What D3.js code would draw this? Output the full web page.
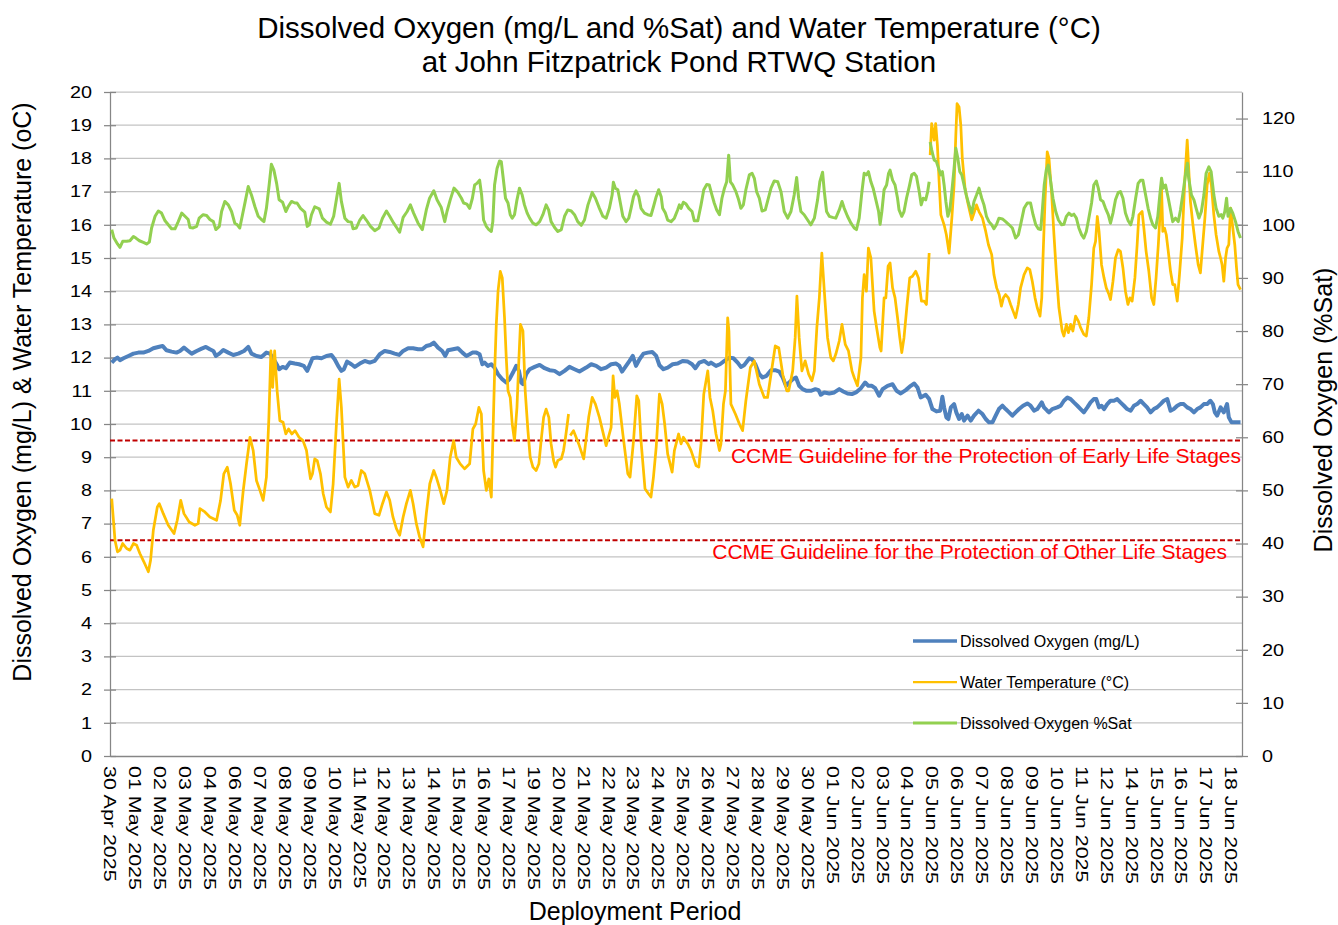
<html>
<head>
<meta charset="utf-8">
<title>RTWQ chart</title>
<script src="https://cdn.jsdelivr.net/npm/d3@7"></script>
<style>
body { margin: 0; background: #fff; }
text { font-family: "Liberation Sans", Arial, sans-serif; }
</style>
</head>

<body>
<svg id="chart" width="1338" height="925"></svg>
</body>

<script>
// x values are positions along the category axis (1 = one label step)
var x_labels = ["30 Apr 2025", "01 May 2025", "02 May 2025", "03 May 2025", "04 May 2025", "06 May 2025",
  "07 May 2025", "08 May 2025", "09 May 2025", "10 May 2025", "11 May 2025", "12 May 2025", "13 May 2025",
  "14 May 2025", "15 May 2025", "16 May 2025", "17 May 2025", "19 May 2025", "20 May 2025", "21 May 2025",
  "22 May 2025", "23 May 2025", "24 May 2025", "25 May 2025", "26 May 2025", "27 May 2025", "28 May 2025",
  "29 May 2025", "30 May 2025", "01 Jun 2025", "02 Jun 2025", "03 Jun 2025", "04 Jun 2025", "05 Jun 2025",
  "06 Jun 2025", "07 Jun 2025", "08 Jun 2025", "09 Jun 2025", "10 Jun 2025", "11 Jun 2025", "12 Jun 2025",
  "14 Jun 2025", "15 Jun 2025", "16 Jun 2025", "17 Jun 2025", "18 Jun 2025"];

var left_ticks = [0,1,2,3,4,5,6,7,8,9,10,11,12,13,14,15,16,17,18,19,20];
var right_ticks = [0,10,20,30,40,50,60,70,80,90,100,110,120];

var guidelines = [9.5, 6.5];
var guideline_labels = ["CCME Guideline for the Protection of Early Life Stages",
                        "CCME Guideline for the Protection of Other Life Stages"];

var series_names = ["Dissolved Oxygen (mg/L)", "Water Temperature (\u00B0C)", "Dissolved Oxygen %Sat"];

var do_mgl = [[0.07,11.85],[0.20,11.95],[0.30,12.0],[0.40,11.92],[0.54,11.98],[0.74,12.05],[0.94,12.12],[1.14,12.15],
[1.34,12.15],[1.54,12.2],[1.74,12.28],[1.94,12.32],[2.11,12.35],[2.27,12.22],[2.47,12.18],[2.67,12.15],[2.81,12.2],
[2.97,12.3],[3.14,12.2],[3.28,12.12],[3.48,12.2],[3.68,12.27],[3.85,12.32],[4.01,12.25],[4.15,12.2],[4.25,12.05],
[4.39,12.12],[4.55,12.23],[4.75,12.15],[4.95,12.08],[5.15,12.12],[5.38,12.2],[5.55,12.32],[5.68,12.12],[5.88,12.05],
[6.08,12.02],[6.28,12.15],[6.42,12.12],[6.55,11.98],[6.69,11.8],[6.79,11.65],[6.93,11.72],[7.06,11.68],[7.22,11.85],
[7.42,11.82],[7.59,11.8],[7.78,11.75],[7.92,11.6],[8.00,11.75],[8.13,11.98],[8.29,12.0],[8.49,11.98],[8.69,12.05],
[8.89,12.08],[9.02,11.95],[9.16,11.75],[9.29,11.6],[9.39,11.65],[9.52,11.88],[9.69,11.8],[9.83,11.72],[10.03,11.82],
[10.23,11.9],[10.43,11.85],[10.63,11.9],[10.83,12.1],[11.03,12.2],[11.23,12.17],[11.43,12.12],[11.61,12.08],[11.77,12.2],
[11.97,12.28],[12.17,12.28],[12.37,12.25],[12.54,12.25],[12.70,12.35],[12.86,12.38],[13.00,12.45],[13.17,12.3],
[13.34,12.2],[13.46,12.05],[13.57,12.22],[13.77,12.25],[13.97,12.28],[14.15,12.15],[14.31,12.05],[14.44,12.1],
[14.55,12.15],[14.71,12.15],[14.84,12.1],[14.95,11.8],[15.04,11.85],[15.17,11.75],[15.31,11.8],[15.44,11.7],[15.58,11.5],
[15.75,11.35],[15.91,11.25],[16.04,11.35],[16.18,11.55],[16.31,11.75],[16.42,11.6],[16.51,11.25],[16.58,11.2],
[16.71,11.5],[16.85,11.65],[17.05,11.72],[17.25,11.78],[17.45,11.68],[17.65,11.62],[17.85,11.6],[18.05,11.5],
[18.25,11.6],[18.45,11.72],[18.65,11.65],[18.85,11.58],[19.12,11.7],[19.32,11.8],[19.52,11.75],[19.72,11.65],
[19.92,11.7],[20.12,11.8],[20.32,11.82],[20.45,11.75],[20.56,11.58],[20.72,11.75],[20.86,11.9],[20.99,12.05],
[21.12,11.75],[21.26,11.95],[21.42,12.12],[21.59,12.15],[21.77,12.17],[21.93,12.05],[22.06,11.77],[22.22,11.65],
[22.39,11.7],[22.59,11.8],[22.79,11.82],[22.99,11.9],[23.20,11.88],[23.37,11.8],[23.50,11.68],[23.66,11.85],[23.86,11.9],
[24.04,11.8],[24.13,11.85],[24.33,11.75],[24.49,11.8],[24.67,11.9],[24.87,12.0],[25.03,11.98],[25.20,11.85],[25.33,11.72],
[25.47,11.78],[25.67,11.98],[25.78,11.95],[25.91,11.8],[26.07,11.5],[26.20,11.4],[26.36,11.45],[26.54,11.62],[26.71,11.62],
[26.87,11.58],[27.01,11.4],[27.14,11.15],[27.27,11.25],[27.41,11.35],[27.54,11.4],[27.67,11.15],[27.81,11.05],[27.97,11.0],
[28.14,11.0],[28.32,11.05],[28.45,11.02],[28.54,10.88],[28.68,10.95],[28.88,10.92],[29.08,10.95],[29.28,11.05],[29.44,10.98],
[29.61,10.92],[29.79,10.9],[29.95,10.95],[30.15,11.08],[30.32,11.25],[30.45,11.15],[30.59,11.15],[30.72,11.08],[30.88,10.85],
[31.02,11.05],[31.22,11.15],[31.42,11.2],[31.58,11.0],[31.75,10.92],[31.95,11.02],[32.15,11.15],[32.29,11.22],[32.42,11.1],
[32.55,10.8],[32.75,10.88],[32.89,10.75],[33.02,10.45],[33.18,10.38],[33.33,10.4],[33.42,10.82],[33.49,10.5],[33.58,10.2],
[33.66,10.15],[33.76,10.5],[33.89,10.6],[33.98,10.35],[34.09,10.15],[34.20,10.3],[34.29,10.1],[34.43,10.25],[34.56,10.1],
[34.69,10.25],[34.87,10.4],[35.03,10.3],[35.16,10.15],[35.29,10.05],[35.43,10.05],[35.56,10.25],[35.69,10.45],[35.83,10.55],
[35.96,10.45],[36.10,10.35],[36.23,10.25],[36.36,10.35],[36.50,10.45],[36.66,10.55],[36.83,10.62],[36.96,10.55],[37.10,10.4],
[37.23,10.45],[37.41,10.65],[37.50,10.5],[37.63,10.4],[37.70,10.35],[37.83,10.45],[38.03,10.5],[38.17,10.55],[38.30,10.7],
[38.44,10.8],[38.57,10.75],[38.70,10.65],[38.84,10.55],[38.97,10.45],[39.10,10.35],[39.24,10.5],[39.37,10.65],[39.50,10.75],
[39.60,10.75],[39.71,10.5],[39.81,10.55],[39.91,10.45],[40.04,10.6],[40.17,10.7],[40.31,10.7],[40.44,10.75],[40.57,10.65],
[40.71,10.55],[40.84,10.45],[40.98,10.4],[41.11,10.55],[41.24,10.6],[41.38,10.7],[41.51,10.6],[41.64,10.5],[41.78,10.35],
[41.91,10.45],[42.04,10.5],[42.18,10.6],[42.31,10.7],[42.45,10.75],[42.58,10.4],[42.71,10.45],[42.85,10.55],[42.98,10.6],
[43.11,10.6],[43.25,10.5],[43.38,10.45],[43.52,10.35],[43.65,10.45],[43.78,10.5],[43.92,10.6],[44.05,10.6],[44.18,10.7],
[44.28,10.6],[44.36,10.35],[44.45,10.25],[44.59,10.5],[44.72,10.35],[44.85,10.6],[44.92,10.2],[45.03,10.05],[45.19,10.05],
[45.39,10.05]];

var water_temp = [[0.07,7.75],[0.20,6.5],[0.30,6.15],[0.40,6.2],[0.51,6.4],[0.67,6.25],[0.80,6.2],[0.94,6.4],[1.07,6.35],
[1.20,6.1],[1.36,5.85],[1.54,5.55],[1.63,5.9],[1.74,6.8],[1.90,7.5],[1.98,7.6],[2.14,7.3],[2.34,6.95],[2.57,6.7],[2.70,7.1],
[2.84,7.7],[2.97,7.3],[3.18,7.05],[3.41,6.95],[3.54,7.0],[3.61,7.45],[3.81,7.35],[4.01,7.2],[4.28,7.1],[4.44,7.7],[4.57,8.5],
[4.71,8.7],[4.84,8.2],[4.99,7.4],[5.11,7.25],[5.21,6.95],[5.35,8.0],[5.48,8.8],[5.62,9.6],[5.75,9.2],[5.88,8.3],[6.02,8.0],
[6.15,7.7],[6.28,8.4],[6.38,10.2],[6.46,12.2],[6.53,11.1],[6.61,12.2],[6.71,11.0],[6.82,10.1],[6.95,10.05],[7.06,9.7],
[7.17,9.85],[7.30,9.7],[7.43,9.8],[7.59,9.6],[7.75,9.5],[7.89,9.2],[7.96,8.8],[8.05,8.35],[8.13,8.5],[8.22,8.95],[8.32,8.9],
[8.45,8.5],[8.56,7.9],[8.69,7.5],[8.85,7.35],[8.96,8.2],[9.09,10.0],[9.20,11.35],[9.29,10.5],[9.43,8.4],[9.56,8.1],[9.69,8.3],
[9.83,8.1],[9.96,8.15],[10.09,8.6],[10.23,8.5],[10.43,8.0],[10.63,7.3],[10.80,7.25],[10.94,7.6],[11.10,7.95],[11.23,7.7],
[11.36,7.2],[11.50,6.85],[11.63,6.65],[11.77,7.2],[11.90,7.6],[12.06,8.0],[12.17,7.6],[12.30,7.0],[12.43,6.6],[12.57,6.3],
[12.70,7.3],[12.84,8.2],[13.00,8.6],[13.10,8.4],[13.26,8.0],[13.40,7.6],[13.53,8.0],[13.66,9.0],[13.80,9.5],[13.90,9.0],
[14.06,8.8],[14.24,8.65],[14.44,8.8],[14.57,9.85],[14.68,10.0],[14.81,10.5],[14.91,10.3],[15.00,8.6],[15.11,8.0],[15.21,8.35],
[15.31,7.8],[15.37,9.5],[15.44,11.5],[15.51,13.0],[15.58,14.0],[15.67,14.6],[15.75,14.4],[15.84,13.2],[15.91,12.0],[15.98,11.0],
[16.07,10.8],[16.15,10.0],[16.24,9.5],[16.34,10.5],[16.42,12.0],[16.48,13.0],[16.58,12.8],[16.67,11.0],[16.78,9.8],[16.87,9.0],
[16.98,8.7],[17.11,8.6],[17.22,8.8],[17.31,9.5],[17.41,10.2],[17.51,10.45],[17.62,10.2],[17.71,9.4],[17.81,8.9],[17.89,8.7],
[17.98,8.9],[18.12,8.95],[18.21,9.2],[18.29,9.6],[18.36,10.0],[18.41,10.3],[18.44,null],[18.48,9.65],[18.61,9.8],[18.82,9.4],
[19.02,8.95],[19.22,10.2],[19.36,10.8],[19.49,10.6],[19.65,10.2],[19.92,9.35],[20.12,9.9],[20.20,11.45],[20.27,10.8],
[20.36,11.0],[20.45,10.6],[20.59,9.7],[20.79,8.5],[20.88,8.4],[21.02,9.5],[21.15,10.85],[21.23,10.7],[21.32,9.5],[21.48,8.05],
[21.62,7.9],[21.72,7.8],[21.82,8.4],[21.93,9.3],[22.06,10.9],[22.17,10.6],[22.27,10.0],[22.39,9.1],[22.57,8.55],[22.66,9.2],
[22.83,9.7],[22.93,9.4],[23.02,9.6],[23.20,9.4],[23.33,9.2],[23.53,8.75],[23.64,8.7],[23.73,9.4],[23.84,10.9],[24.00,11.6],
[24.09,10.8],[24.20,10.4],[24.33,9.7],[24.47,9.2],[24.53,9.4],[24.63,10.6],[24.71,11.0],[24.80,13.2],[24.85,12.8],[24.93,10.6],
[25.11,10.3],[25.27,10.0],[25.40,9.8],[25.53,10.7],[25.71,11.7],[25.87,11.9],[26.07,11.2],[26.27,10.8],[26.40,10.8],[26.54,11.5],
[26.71,12.35],[26.85,12.3],[27.01,11.5],[27.17,11.0],[27.25,11.0],[27.41,11.6],[27.51,12.6],[27.58,13.85],[27.67,12.6],
[27.78,11.6],[27.91,11.9],[28.05,11.5],[28.18,11.3],[28.28,11.6],[28.38,12.9],[28.48,13.8],[28.58,15.15],[28.68,14.0],
[28.81,12.6],[28.94,12.0],[29.04,11.9],[29.14,12.1],[29.28,12.5],[29.39,13.0],[29.52,12.4],[29.65,12.2],[29.79,11.6],
[29.88,11.4],[30.01,11.15],[30.15,12.0],[30.21,13.8],[30.28,14.5],[30.37,14.0],[30.45,15.3],[30.55,15.0],[30.68,13.4],
[30.78,12.9],[30.91,12.3],[30.96,12.2],[31.02,13.0],[31.08,13.8],[31.15,13.8],[31.24,14.75],[31.32,14.85],[31.42,14.1],
[31.52,13.8],[31.62,13.2],[31.71,12.6],[31.79,12.15],[31.88,12.6],[31.99,13.5],[32.11,14.4],[32.22,14.45],[32.35,14.6],
[32.46,14.4],[32.58,13.7],[32.69,13.7],[32.78,13.6],[32.89,15.15],[32.91,null],[32.93,18.1],[32.99,19.05],[33.09,18.55],
[33.15,19.05],[33.22,18.4],[33.29,17.3],[33.36,16.3],[33.49,16.0],[33.58,15.7],[33.69,15.15],[33.80,16.2],[33.89,17.2],
[33.96,18.7],[34.01,19.65],[34.09,19.55],[34.16,19.0],[34.22,18.0],[34.33,17.1],[34.43,16.7],[34.52,16.4],[34.60,16.15],
[34.69,16.35],[34.79,16.6],[34.89,16.4],[35.03,16.2],[35.16,15.8],[35.27,15.4],[35.40,15.1],[35.49,14.5],[35.60,14.1],
[35.70,13.9],[35.79,13.55],[35.87,13.8],[35.96,13.9],[36.07,13.8],[36.16,13.6],[36.26,13.4],[36.36,13.2],[36.47,13.6],
[36.56,14.1],[36.70,14.5],[36.83,14.7],[36.93,14.65],[37.03,14.3],[37.14,13.8],[37.23,13.5],[37.34,13.25],[37.41,13.8],
[37.46,15.0],[37.54,16.7],[37.63,18.2],[37.70,18.0],[37.81,16.9],[37.90,15.7],[38.00,14.5],[38.10,13.5],[38.23,12.8],
[38.30,12.65],[38.40,13.0],[38.48,12.75],[38.57,13.0],[38.66,12.8],[38.77,13.25],[38.88,13.1],[38.97,12.9],[39.10,12.7],
[39.20,12.65],[39.30,13.2],[39.41,14.2],[39.50,15.3],[39.57,15.5],[39.64,16.25],[39.71,15.8],[39.81,14.8],[39.91,14.4],
[40.00,14.1],[40.11,13.9],[40.17,13.75],[40.27,14.3],[40.37,15.0],[40.48,15.25],[40.57,15.2],[40.67,14.7],[40.77,14.0],
[40.87,13.6],[40.95,13.8],[41.04,13.7],[41.15,14.4],[41.24,15.4],[41.31,16.3],[41.44,16.4],[41.51,15.9],[41.60,15.2],
[41.71,14.6],[41.82,13.8],[41.91,13.6],[42.00,14.4],[42.09,15.4],[42.15,16.2],[42.22,17.1],[42.27,15.8],[42.34,15.9],
[42.41,15.7],[42.49,15.2],[42.58,14.6],[42.67,14.2],[42.75,14.2],[42.85,13.7],[42.94,14.5],[43.05,15.6],[43.15,17.3],
[43.25,18.55],[43.31,17.7],[43.38,16.7],[43.48,16.0],[43.58,15.4],[43.69,14.8],[43.78,14.55],[43.85,15.2],[43.96,16.2],
[44.05,17.2],[44.14,17.55],[44.22,17.2],[44.32,16.3],[44.41,15.7],[44.52,15.2],[44.59,15.0],[44.65,14.8],[44.72,14.3],
[44.79,15.0],[44.85,15.3],[44.92,15.4],[44.99,16.5],[45.05,16.1],[45.16,15.4],[45.23,14.7],[45.29,14.2],[45.39,14.05]];

var do_sat = [[0.07,99.1],[0.16,97.5],[0.30,96.4],[0.40,95.75],[0.51,96.9],[0.67,96.9],[0.80,97.0],[0.94,97.8],[1.04,97.5],
[1.18,97.0],[1.34,96.7],[1.47,96.4],[1.58,96.75],[1.67,99.4],[1.81,101.6],[1.94,102.6],[2.07,102.2],[2.21,100.75],[2.34,100.0],
[2.47,99.25],[2.61,99.25],[2.74,100.6],[2.88,102.2],[3.01,101.6],[3.14,101.0],[3.21,99.5],[3.34,99.4],[3.48,99.7],[3.58,101.25],
[3.74,101.9],[3.88,101.75],[4.01,101.0],[4.15,100.6],[4.25,99.1],[4.39,99.7],[4.48,102.5],[4.61,104.4],[4.75,103.75],[4.88,102.5],
[5.01,100.3],[5.11,100.0],[5.21,99.4],[5.32,101.9],[5.43,104.4],[5.55,107.2],[5.68,105.6],[5.82,103.4],[5.95,101.6],[6.08,101.0],
[6.18,100.6],[6.28,103.1],[6.39,107.5],[6.48,111.4],[6.58,110.3],[6.69,107.8],[6.79,104.7],[6.93,104.25],[7.06,102.5],
[7.15,103.4],[7.29,104.4],[7.42,104.1],[7.51,104.1],[7.65,103.1],[7.82,102.4],[7.92,99.7],[8.00,100.0],[8.09,101.9],[8.22,103.4],
[8.40,103.0],[8.53,101.25],[8.69,100.5],[8.85,100.1],[8.98,101.6],[9.12,105.6],[9.20,107.8],[9.29,104.4],[9.43,101.25],
[9.56,100.6],[9.69,100.5],[9.76,99.25],[9.89,99.4],[10.03,100.9],[10.16,101.75],[10.29,100.9],[10.46,99.7],[10.63,98.9],
[10.80,99.4],[10.94,101.25],[11.10,102.6],[11.23,101.6],[11.39,100.3],[11.52,99.4],[11.63,98.6],[11.77,101.4],[11.93,102.5],
[12.06,103.75],[12.19,102.2],[12.37,100.3],[12.54,99.1],[12.70,102.8],[12.83,105.0],[13.00,106.4],[13.13,104.7],[13.30,103.25],
[13.44,100.6],[13.53,102.5],[13.66,104.7],[13.81,106.9],[13.97,106.1],[14.11,105.0],[14.20,104.1],[14.33,103.9],[14.44,103.1],
[14.55,105.0],[14.64,107.5],[14.73,107.8],[14.84,108.4],[14.92,105.6],[15.00,100.9],[15.11,99.7],[15.21,99.1],[15.31,98.75],
[15.37,100.6],[15.44,107.5],[15.54,110.6],[15.64,112.0],[15.71,111.9],[15.78,109.1],[15.88,105.0],[15.98,104.1],[16.07,101.9],
[16.15,101.25],[16.24,101.9],[16.34,104.7],[16.44,106.9],[16.55,105.6],[16.64,103.75],[16.75,102.2],[16.85,101.25],
[16.98,100.3],[17.11,100.0],[17.25,100.6],[17.38,101.9],[17.51,103.75],[17.61,102.8],[17.71,100.6],[17.85,99.5],[17.98,98.75],
[18.12,99.1],[18.25,101.6],[18.38,102.8],[18.52,102.6],[18.65,101.9],[18.78,100.6],[18.92,99.9],[19.05,100.9],[19.19,103.75],
[19.36,106.1],[19.49,105.0],[19.65,103.1],[19.79,101.6],[19.92,101.25],[20.05,103.1],[20.16,105.6],[20.21,108.0],[20.29,106.9],
[20.39,106.6],[20.48,104.4],[20.59,101.6],[20.72,100.6],[20.83,101.25],[20.92,103.1],[21.02,105.3],[21.12,106.4],[21.23,105.3],
[21.32,103.1],[21.46,102.2],[21.59,101.9],[21.72,101.75],[21.82,103.4],[21.93,105.3],[22.03,106.6],[22.13,105.3],[22.19,103.1],
[22.30,102.2],[22.39,100.9],[22.53,100.6],[22.66,101.25],[22.79,102.8],[22.86,103.75],[22.93,103.1],[23.02,104.25],
[23.13,103.9],[23.24,103.1],[23.37,102.5],[23.46,100.75],[23.60,100.75],[23.73,103.75],[23.84,106.6],[23.96,107.6],
[24.06,107.5],[24.17,105.6],[24.26,104.1],[24.36,102.8],[24.47,101.9],[24.57,105.0],[24.67,106.9],[24.76,108.1],[24.84,113.1],
[24.91,108.1],[25.00,107.5],[25.13,106.25],[25.24,104.7],[25.33,103.1],[25.43,103.75],[25.53,106.6],[25.67,109.4],[25.78,109.7],
[25.87,108.75],[25.96,106.25],[26.07,105.0],[26.18,102.6],[26.31,102.8],[26.40,104.4],[26.54,106.9],[26.67,108.25],
[26.81,108.1],[26.94,106.25],[27.07,102.5],[27.21,101.25],[27.34,102.5],[27.47,105.6],[27.57,108.9],[27.65,105.0],[27.74,102.5],
[27.87,101.9],[28.01,100.9],[28.14,100.0],[28.28,101.25],[28.41,104.7],[28.50,108.1],[28.61,109.9],[28.68,106.25],[28.77,102.5],
[28.88,101.6],[29.01,101.4],[29.14,101.25],[29.28,102.8],[29.39,104.4],[29.48,103.1],[29.61,101.6],[29.75,100.3],[29.88,99.4],
[29.97,99.1],[30.08,101.25],[30.19,106.25],[30.28,109.7],[30.37,109.4],[30.45,110.0],[30.55,108.1],[30.64,106.9],[30.75,104.7],
[30.86,102.5],[30.92,100.1],[30.99,102.5],[31.08,106.6],[31.18,107.5],[31.26,109.7],[31.32,110.3],[31.42,108.4],[31.52,107.5],
[31.62,105.0],[31.68,102.8],[31.79,101.6],[31.88,102.5],[31.98,105.0],[32.09,107.2],[32.19,109.4],[32.29,109.7],[32.38,109.1],
[32.49,106.25],[32.57,103.75],[32.65,105.0],[32.75,104.7],[32.83,106.25],[32.89,108.1],[32.91,null],[32.93,115.6],[32.99,114.1],
[33.09,112.2],[33.18,111.9],[33.29,110.3],[33.36,109.4],[33.42,110.0],[33.49,107.5],[33.56,104.4],[33.64,101.6],[33.72,102.8],
[33.80,106.25],[33.89,110.6],[33.96,114.4],[34.04,112.5],[34.12,110.0],[34.20,109.4],[34.29,107.5],[34.38,105.6],[34.49,103.75],
[34.60,102.2],[34.69,104.4],[34.79,105.6],[34.89,106.9],[35.00,105.0],[35.09,103.75],[35.19,101.6],[35.29,100.6],[35.40,100.0],
[35.49,99.25],[35.59,100.0],[35.69,101.25],[35.83,101.1],[35.96,100.6],[36.10,100.0],[36.23,99.4],[36.36,97.5],[36.47,98.1],
[36.56,100.0],[36.70,103.1],[36.83,104.1],[36.96,104.1],[37.06,101.9],[37.17,100.0],[37.27,99.25],[37.37,99.1],[37.43,102.5],
[37.51,107.5],[37.59,110.3],[37.67,111.25],[37.77,108.1],[37.86,105.0],[37.97,102.5],[38.08,100.9],[38.21,100.0],[38.30,100.1],
[38.40,101.6],[38.50,102.2],[38.61,101.75],[38.70,102.0],[38.80,101.25],[38.90,99.4],[39.01,98.1],[39.10,97.5],[39.20,98.75],
[39.30,101.25],[39.41,104.1],[39.50,107.5],[39.60,108.25],[39.68,106.9],[39.77,104.7],[39.87,104.4],[39.97,103.1],[40.08,101.9],
[40.17,100.3],[40.27,102.2],[40.37,104.7],[40.48,106.1],[40.57,106.25],[40.67,105.0],[40.77,102.2],[40.88,100.75],[40.98,100.0],
[41.07,101.6],[41.18,105.0],[41.28,107.8],[41.38,108.4],[41.47,108.4],[41.58,105.6],[41.68,103.1],[41.78,101.25],[41.87,100.0],
[41.98,99.4],[42.07,101.6],[42.15,105.6],[42.22,108.75],[42.29,106.9],[42.38,107.5],[42.49,105.0],[42.58,102.8],[42.67,100.6],
[42.78,101.25],[42.89,100.6],[42.98,102.8],[43.07,105.6],[43.18,109.4],[43.26,111.6],[43.31,108.75],[43.42,105.6],[43.52,104.7],
[43.61,103.1],[43.72,101.25],[43.82,102.5],[43.92,105.6],[44.01,109.7],[44.12,110.9],[44.21,110.0],[44.32,105.6],[44.41,103.1],
[44.52,101.6],[44.61,101.9],[44.68,101.25],[44.76,102.5],[44.83,105.0],[44.89,101.6],[44.99,103.1],[45.08,102.2],[45.19,100.6],
[45.29,98.75],[45.39,97.5]];

var plot_left = 110, plot_right = 1242, plot_top = 92, plot_bottom = 756;

var svg = d3.select("#chart");
svg.append("rect").attr("width", 1338).attr("height", 925).style("fill", "white");

var x = d3.scaleLinear().domain([0, 45.45]).range([plot_left, plot_right]);
var y = d3.scaleLinear().domain([0, 20]).range([plot_bottom, plot_top]);
var y2 = d3.scaleLinear().domain([0, 125]).range([plot_bottom, plot_top]);

// gridlines
svg.append("g").selectAll("line").data(left_ticks).enter()
  .append("line")
  .attr("x1", plot_left).attr("x2", plot_right)
  .attr("y1", function(d) { return y(d); }).attr("y2", function(d) { return y(d); })
  .style("stroke", "#c3c3c3").style("stroke-width", 1.25);

// left axis
var ax_left = svg.append("g").attr("transform", "translate(" + plot_left + ",0)")
  .call(d3.axisLeft(y).tickValues(left_ticks).tickSizeInner(6).tickSizeOuter(0).tickPadding(12));
ax_left.selectAll(".tick line").attr("x1", 6);
ax_left.selectAll(".tick text").attr("x", null)
  .attr("transform", "translate(-18,0) scale(1.2,1)");

// right axis
var ax_right = svg.append("g").attr("transform", "translate(" + plot_right + ",0)")
  .call(d3.axisRight(y2).tickValues(right_ticks).tickSizeInner(6).tickSizeOuter(0).tickPadding(13));
ax_right.selectAll(".tick line").attr("x1", -6);
ax_right.selectAll(".tick text").attr("x", null)
  .attr("transform", "translate(20,0) scale(1.2,1)");

// bottom axis, labels turned to read downwards
var ax_bottom = svg.append("g").attr("transform", "translate(0," + plot_bottom + ")")
  .call(d3.axisBottom(x).tickValues(d3.range(x_labels.length))
    .tickFormat(function(i) { return x_labels[i]; }).tickSize(0).tickSizeOuter(0));
ax_bottom.selectAll(".tick text")
  .attr("x", 0).attr("y", 0).attr("dy", "0.35em")
  .attr("transform", "translate(0,10) rotate(90) scale(1.24,1)")
  .style("text-anchor", "start");

[ax_left, ax_right, ax_bottom].forEach(function(a) {
  a.selectAll(".domain, .tick line").style("stroke", "#868686").style("stroke-width", 1.25);
  a.selectAll(".tick text").style("font-size", "16.5px").style("fill", "#000")
    .style("font-family", "'Liberation Sans', Arial, sans-serif");
});
ax_bottom.selectAll(".tick text").style("font-size", "17.3px");

// guideline lines and labels
svg.append("g").selectAll("line").data(guidelines).enter()
  .append("line")
  .attr("x1", plot_left).attr("x2", plot_right)
  .attr("y1", function(d) { return y(d); }).attr("y2", function(d) { return y(d); })
  .style("stroke", "#c00000").style("stroke-width", 2).style("stroke-dasharray", "5,2.5");

svg.append("text").attr("x", plot_right - 1).attr("y", y(guidelines[0]) + 22)
  .style("text-anchor", "end").style("font-size", "21px").style("fill", "#ff0000")
  .text(guideline_labels[0]);
svg.append("text").attr("x", plot_right - 15).attr("y", y(guidelines[1]) + 19)
  .style("text-anchor", "end").style("font-size", "21px").style("fill", "#ff0000")
  .text(guideline_labels[1]);

// series
var line_left = d3.line()
  .defined(function(d) { return d[1] != null; })
  .x(function(d) { return x(d[0]); })
  .y(function(d) { return y(d[1]); });
var line_right = d3.line()
  .defined(function(d) { return d[1] != null; })
  .x(function(d) { return x(d[0]); })
  .y(function(d) { return y2(d[1]); });

var colours = ["#4f81bd", "#ffc000", "#92d050"];

svg.append("path").datum(do_mgl).attr("d", line_left)
  .style("fill", "none").style("stroke", colours[0]).style("stroke-width", 4).style("stroke-linejoin", "round");
svg.append("path").datum(water_temp).attr("d", line_left)
  .style("fill", "none").style("stroke", colours[1]).style("stroke-width", 2.75).style("stroke-linejoin", "round");
svg.append("path").datum(do_sat).attr("d", line_right)
  .style("fill", "none").style("stroke", colours[2]).style("stroke-width", 3).style("stroke-linejoin", "round");

// legend
var legend_widths = [3.5, 2.25, 3];
var legend = svg.append("g").selectAll("g").data(series_names).enter()
  .append("g").attr("transform", function(d, i) { return "translate(913," + (641 + i * 41) + ")"; });
legend.append("line").attr("x1", 0).attr("x2", 44).attr("y1", 0).attr("y2", 0)
  .style("stroke", function(d, i) { return colours[i]; })
  .style("stroke-width", function(d, i) { return legend_widths[i]; });
legend.append("text").attr("x", 47).attr("y", 6)
  .style("font-size", "16px").text(function(d) { return d; });

// titles
svg.append("text").attr("x", 679).attr("y", 38).style("text-anchor", "middle").style("font-size", "29.5px")
  .text("Dissolved Oxygen (mg/L and %Sat) and Water Temperature (\u00B0C)");
svg.append("text").attr("x", 679).attr("y", 72).style("text-anchor", "middle").style("font-size", "29.5px")
  .text("at John Fitzpatrick Pond RTWQ Station");

svg.append("text").attr("transform", "translate(31,392) rotate(-90)").style("text-anchor", "middle")
  .style("font-size", "25px").text("Dissolved Oxygen (mg/L) & Water Temperature (oC)");
svg.append("text").attr("transform", "translate(1332,410) rotate(-90)").style("text-anchor", "middle")
  .style("font-size", "25px").text("Dissolved Oxygen (%Sat)");
svg.append("text").attr("x", 635).attr("y", 920).style("text-anchor", "middle")
  .style("font-size", "25px").text("Deployment Period");
</script>
</html>
